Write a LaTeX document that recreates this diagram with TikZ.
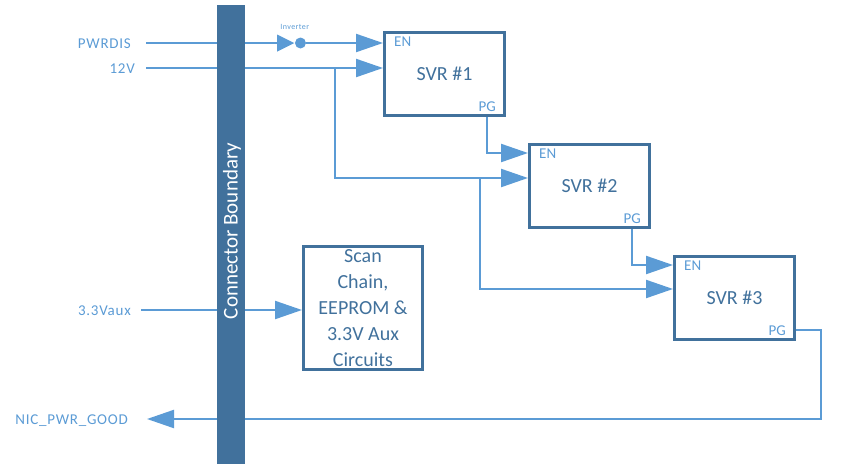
\documentclass[tikz,border=0pt]{standalone}
\usepackage{fontspec}
\setmainfont{Carlito}
\newfontfamily\lblfont[LetterSpace=5]{Carlito}
\usepackage{tikz}
\usetikzlibrary{positioning, arrows.meta, calc, shapes.geometric, backgrounds}
\definecolor{barBlue}{HTML}{41719C}
\definecolor{wireBlue}{HTML}{5B9BD5}

\begin{document}
\begin{tikzpicture}[x=1pt, y=-1pt,
  every node/.style={inner sep=0pt},
  svrbox/.style={rectangle, draw=barBlue, line width=3pt, minimum width=120pt,
              minimum height=83pt, text=barBlue, font=\fontsize{20}{24}\selectfont},
  scanbox/.style={rectangle, draw=barBlue, line width=3pt, minimum width=119pt,
              minimum height=123pt, text=barBlue, align=center,
              font=\fontsize{20}{26}\selectfont},
  port/.style={text=wireBlue, text height=10pt, text depth=0pt,
               font=\fontsize{15}{17}\selectfont},
  sig/.style={text=wireBlue, text height=10pt, text depth=0pt,
              font=\lblfont\fontsize{15}{17}\selectfont},
  invtri/.style={isosceles triangle, isosceles triangle stretches, fill=wireBlue,
                 minimum width=17pt, minimum height=17pt},
  bubble/.style={circle, fill=wireBlue, minimum size=11pt},
  wire/.style={draw=wireBlue, line width=2.2pt},
  arr/.style={-{Triangle[length=27pt, width=18pt]}},
]
  \useasboundingbox (0,0) rectangle (868,464);

  % connector bar
  \node[fill=barBlue, minimum width=28pt, minimum height=459pt] (bar) at (231,234.5) {};
  \node[rotate=90, text=white, font=\fontsize{21}{24}\selectfont] (bar_lbl) at (232,231)
        {Connector Boundary};

  % signals at the edge
  \node[sig, anchor=east] (pwrdis)   at (131,43)  {PWRDIS};
  \node[sig, anchor=east] (v12)      at (135,68)  {12V};
  \node[sig, anchor=east] (vaux)     at (131,310) {3.3Vaux};
  \node[sig, anchor=east] (nic_good) at (128,419) {NIC\_PWR\_GOOD};

  % inverter
  \node[invtri] (inv) at (282.5,43) {};
  \node[bubble, anchor=west] (inv_o) at (inv.apex) {};
  \node[text=wireBlue, anchor=south, font=\lblfont\fontsize{8}{9}\selectfont]
        (inv_lbl) at ($(inv.apex)+(0,-13)$) {Inverter};

  % regulators
  \node[svrbox] (svr1) at (444.5,74)  {SVR \#1};
  \node[svrbox] (svr2) at (589.5,186) {SVR \#2};
  \node[svrbox] (svr3) at (734.5,298) {SVR \#3};

  \node[port, anchor=west] (en1) at ($(svr1.north west)+(11,10)$)  {EN};
  \node[port, anchor=east] (pg1) at ($(svr1.south east)+(-10,-11)$) {PG};
  \node[port, anchor=west] (en2) at ($(svr2.north west)+(11,10)$)  {EN};
  \node[port, anchor=east] (pg2) at ($(svr2.south east)+(-10,-11)$) {PG};
  \node[port, anchor=west] (en3) at ($(svr3.north west)+(11,10)$)  {EN};
  \node[port, anchor=east] (pg3) at ($(svr3.south east)+(-10,-11)$) {PG};

  \node[scanbox] (scan) at (363,308) {Scan\\Chain,\\EEPROM \&\\3.3V Aux\\Circuits};

  \coordinate (tap1) at (335,68);
  \coordinate (tap2) at (480,178);
  \coordinate (tap3) at (480,289);
  \coordinate (ret_corner) at (821,419);

  \begin{scope}[on background layer]
    \draw[wire] ([xshift=15pt]pwrdis.east) -- (inv.center);
    \draw[wire, arr] (inv_o.east) -- (svr1.west |- inv_o);
    \draw[wire, arr] ([xshift=11pt]v12.east) -- (svr1.west |- v12);
    \draw[wire, arr] (tap1) |- (svr2.west |- tap2);
    \draw[wire, arr] (tap2) -- (tap3) -- (svr3.west |- tap3);
    \draw[wire, arr] (pg1 |- svr1.south) |- (svr2.west |- en2);
    \draw[wire, arr] (pg2 |- svr2.south) |- (svr3.west |- en3);
    \draw[wire, arr] (svr3.east |- pg3) -| (ret_corner) -- ([xshift=19pt]nic_good.east);
    \draw[wire, arr] ([xshift=10pt]vaux.east) -- (scan.west |- vaux);
  \end{scope}
\end{tikzpicture}
\end{document}
